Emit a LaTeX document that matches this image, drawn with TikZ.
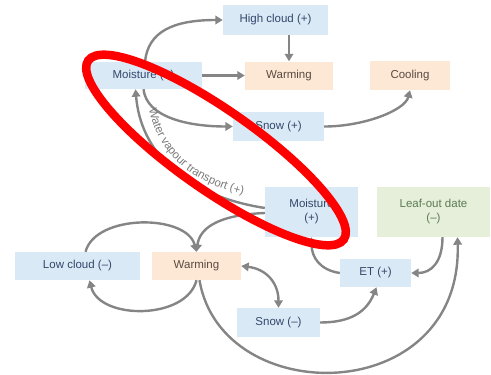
\documentclass[tikz,border=0pt]{standalone}
\usepackage{fontspec}
\setmainfont{Liberation Sans}
\usetikzlibrary{arrows.meta,decorations.text}
\definecolor{bluebox}{HTML}{D9E9F5}
\definecolor{orangebox}{HTML}{FCE8D4}
\definecolor{greenbox}{HTML}{E5EFD9}
\definecolor{bluetext}{HTML}{34476B}
\definecolor{warmtext}{HTML}{5C4A42}
\definecolor{greentext}{HTML}{5D7A55}
\definecolor{arrowgray}{HTML}{858585}
\definecolor{labelgray}{HTML}{7A7A7A}
\newcommand\wvfont{\fontsize{11.5}{13}\selectfont\color{labelgray}}
\begin{document}
\begin{tikzpicture}[x=1pt,y=1pt,
  >={Triangle[length=7.5pt,width=8.5pt]},
  box/.style={rectangle, inner sep=0pt, align=center, font=\fontsize{11.5}{14}\selectfont},
  bl/.style={box, fill=bluebox, text=bluetext},
  og/.style={box, fill=orangebox, text=warmtext},
  gr/.style={box, fill=greenbox, text=greentext},
  arr/.style={draw=arrowgray, line width=2.4pt, ->},
  darr/.style={draw=arrowgray, line width=2.4pt, <->},
]
\useasboundingbox (0,0) rectangle (491,-375);
% nodes
\node[bl, minimum width=117pt, minimum height=27pt] (mt) at (143.5,-75.5) {Moisture (+)};
\node[bl, minimum width=105pt, minimum height=30pt] (hc) at (275.5,-20) {High cloud (+)};
\node[og, minimum width=88pt, minimum height=28pt] (wt) at (289,-75.5) {Warming};
\node[og, minimum width=80pt, minimum height=29pt] (co) at (410,-75.5) {Cooling};
\node[bl, minimum width=91pt, minimum height=29pt] (sp) at (278.5,-126.5) {Snow (+)};
\node[bl, minimum width=93pt, minimum height=50pt] (mm) at (311.5,-212) {Moisture\\(+)};
\node[gr, minimum width=113pt, minimum height=50pt] (lo) at (433.5,-212) {Leaf-out date\\(--)};
\node[bl, minimum width=125pt, minimum height=28pt] (lc) at (77.5,-266) {Low cloud (--)};
\node[og, minimum width=89pt, minimum height=28pt] (wb) at (196.5,-266) {Warming};
\node[bl, minimum width=71pt, minimum height=28pt] (et) at (375.5,-273) {ET (+)};
\node[bl, minimum width=83pt, minimum height=29pt] (sm) at (278.5,-322.5) {Snow (--)};
% connectors
\draw[arr] ([xshift=1.5pt]mt.north) .. controls +(3,30) and +(-50,0) .. (hc.west);
\draw[arr] (wt.north |- hc.south) -- (wt.north);
\draw[arr] (mt.east) -- (wt.west);
\draw[arr] (mt.south) .. controls +(3,-28) and +(-45,0) .. (sp.west);
\draw[arr] (sp.east) .. controls +(40,0) and +(-5,-20) .. (co.south);
\draw[arr] ([yshift=4pt]mm.west) .. controls +(-83,13) and +(5,-61) .. ([xshift=-8pt]mt.south);
\path[decorate, decoration={text along path, text align=left,
  text={|\wvfont|Water vapour transport (+)}}]
  (149,-109) .. controls (160,-162) and (202,-190) .. (266,-199);
\draw[arr] ([yshift=-1pt]mm.west) .. controls +(-50,-2) and +(3,22) .. (wb.north);
\draw[arr] ([xshift=8pt]lc.north) .. controls +(10,38) and +(-10,38) .. (wb.north);
\draw[arr] (wb.south) .. controls +(-10,-40) and +(10,-40) .. ([xshift=12pt]lc.south);
\draw[darr] (wb.east) .. controls +(25,-3) and +(0,25) .. (sm.north);
\draw[arr] (sm.east) .. controls +(30,0) and +(-10,-25) .. ([xshift=1pt]et.south);
\draw[arr] (et.west) .. controls +(-20,3) and +(0,-20) .. (mm.south);
\draw[arr] ([xshift=9pt]lo.south) .. controls +(0,-25) and +(20,0) .. (et.east);
\draw[arr] ([xshift=3pt]wb.south) .. controls +(22,-130) and +(5,-171) .. ([xshift=24pt]lo.south);
% red highlight
\draw[red, line width=8.5pt, rotate around={-35:(216,-150)}] (216,-150) ellipse [x radius=156, y radius=40];
\end{tikzpicture}
\end{document}
